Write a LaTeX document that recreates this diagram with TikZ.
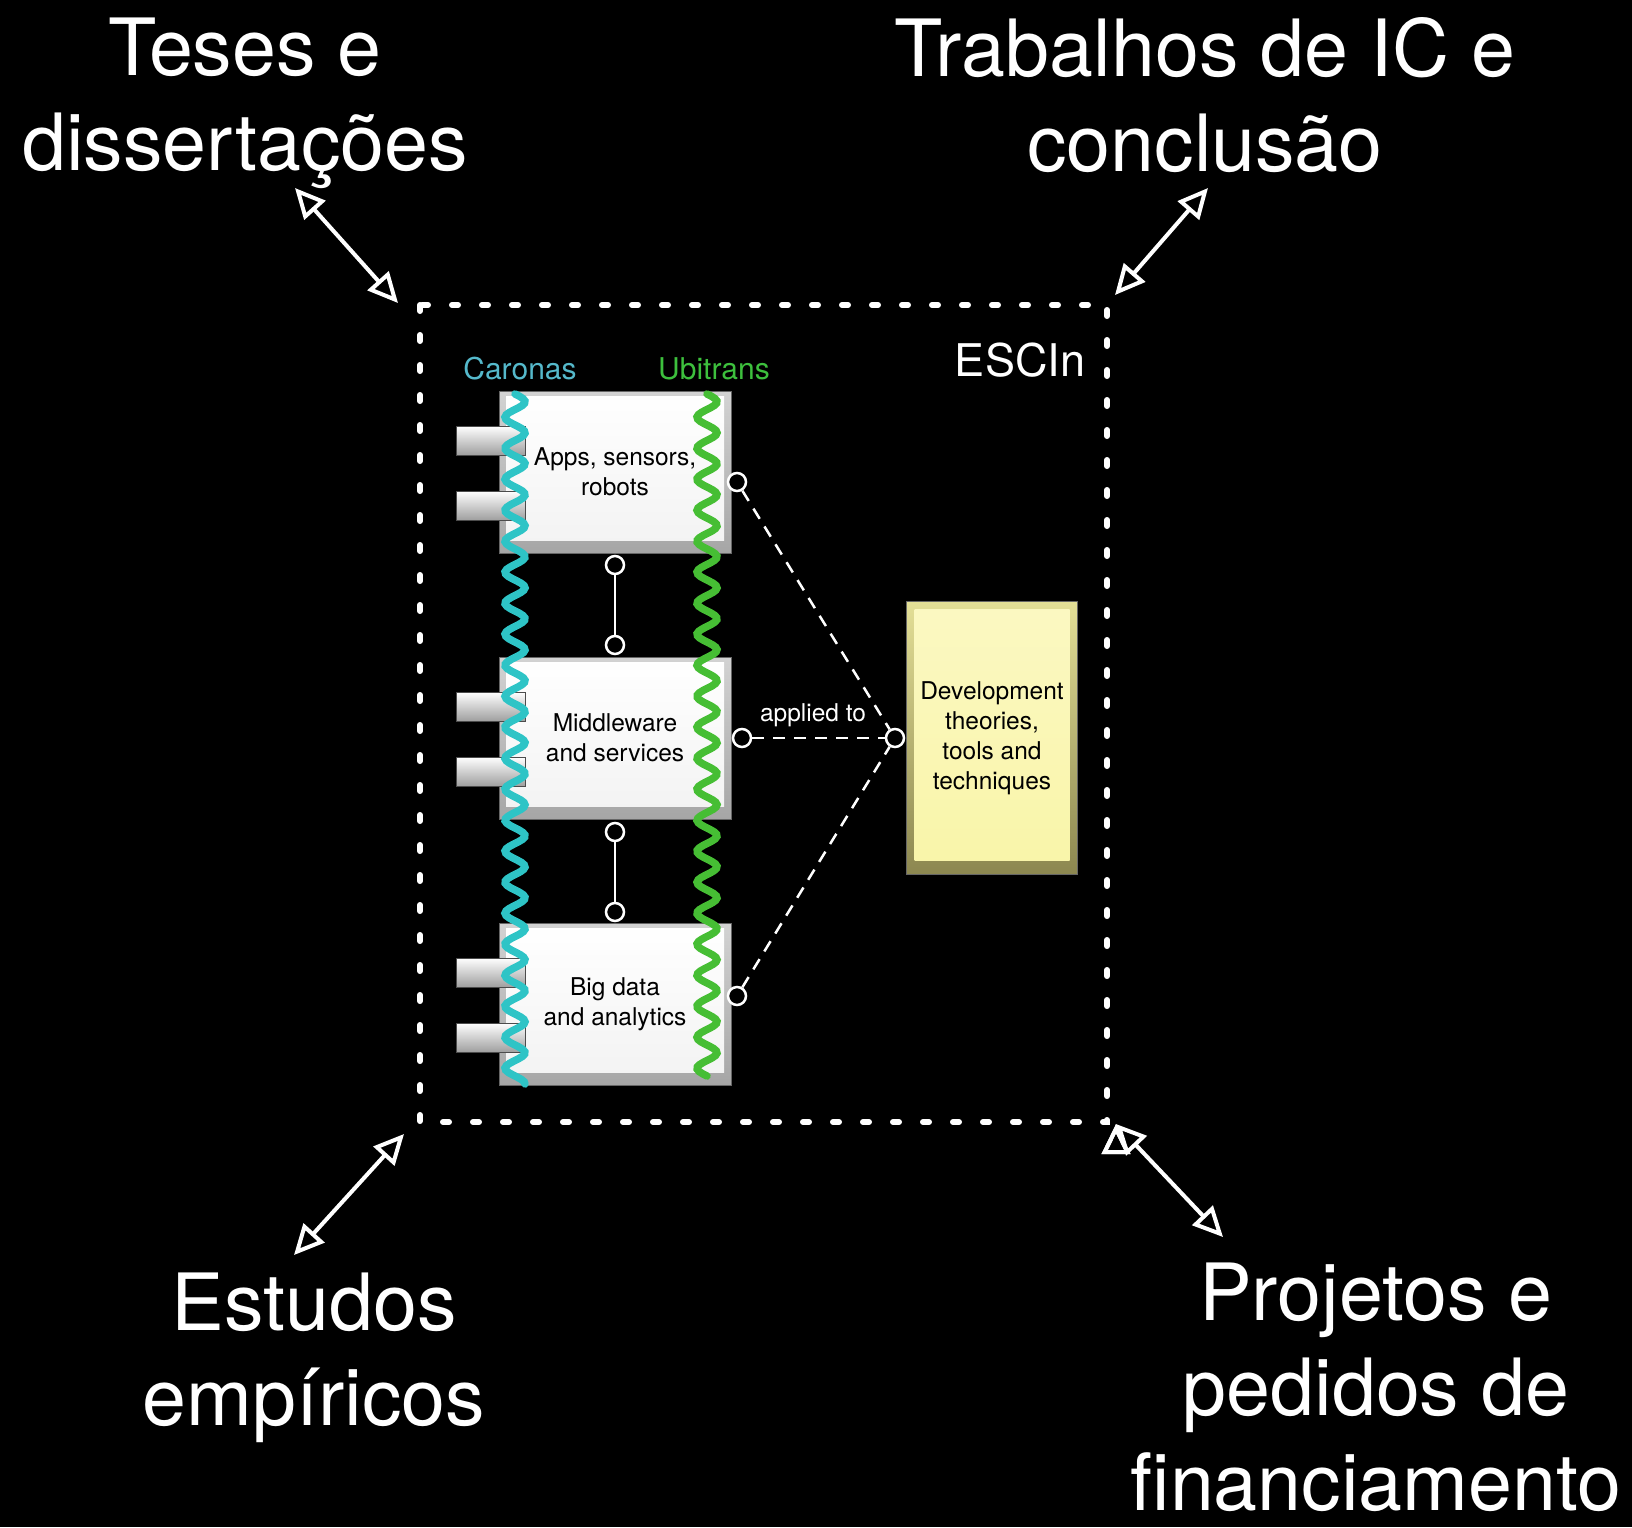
\documentclass[tikz,border=0pt]{standalone}
\usepackage{fontspec}
\setmainfont{TeX Gyre Heros}
\usetikzlibrary{arrows.meta}
\definecolor{caronas}{HTML}{2EC4C6}
\definecolor{caronastext}{HTML}{55B9CB}
\definecolor{ubitrans}{HTML}{46BE34}
\definecolor{ubitranstext}{HTML}{3DC03D}
\definecolor{devfill}{HTML}{F9F5A8}
\definecolor{devedge}{HTML}{8C8750}
\begin{document}
\begin{tikzpicture}[x=1pt, y=-1pt,
  big text/.style={text=white, align=center, inner sep=0pt, font=\fontsize{79}{95}\selectfont},
  team/.style={inner sep=0pt, font=\fontsize{30}{36}\selectfont},
  layer/.style={rectangle, draw=black!60, minimum width=232pt, minimum height=162pt, inner sep=0pt, align=center, font=\fontsize{24.5}{30}\selectfont, top color=gray!35, bottom color=gray!70,
    path picture={\shade[top color=white, bottom color=gray!10] ([shift={(7pt,-5pt)}]path picture bounding box.north west) rectangle ([shift={(-7pt,13pt)}]path picture bounding box.south east);}},
  devbox/.style={rectangle, draw=black!60, minimum width=171pt, minimum height=273pt, inner sep=0pt, align=center, font=\fontsize{24.5}{30}\selectfont, top color=devfill!80!devedge, bottom color=devedge,
    path picture={\shade[top color=devfill!70!white, bottom color=devfill] ([shift={(8pt,-8pt)}]path picture bounding box.north west) rectangle ([shift={(-8pt,14pt)}]path picture bounding box.south east);}},
  tab/.style={draw=black!70, line width=0.8pt, top color=white, bottom color=gray!75},
  wave/.style={line width=7.5pt, line cap=round},
  port/.style={circle, draw=white, fill=black, line width=2.5pt, minimum size=18pt, inner sep=0pt},
  link/.style={white, line width=2pt},
  applied/.style={white, line width=2.5pt, dash pattern=on 12pt off 9pt},
  frame/.style={white, line width=6pt, line cap=round, dash pattern=on 6pt off 24pt},
  both/.style={white, line width=4pt, {Triangle[open,length=30pt,width=28pt]}-{Triangle[open,length=30pt,width=28pt]}}]
\useasboundingbox[fill=black] (0,0) rectangle (1632,1527);
% ESCIn frame
\draw[frame] (420,305) rectangle (1107,1122);
\node[text=white, inner sep=0pt, font=\fontsize{45}{54}\selectfont] (escin) at (1020,360) {ESCIn};
% layers
\node[layer] (apps) at (615,472) {Apps, sensors,\\robots};
\node[layer] (mid) at (615,738) {Middleware\\and services};
\node[layer] (big) at (615,1004) {Big data\\and analytics};
\node[devbox] (dev) at (992,738) {Development\\theories,\\tools and\\techniques};
\foreach \b in {apps,mid,big} {
  \path[tab] ([shift={(-42pt,46pt)}]\b.west) rectangle ([shift={(27pt,17pt)}]\b.west);
  \path[tab] ([shift={(-42pt,-19pt)}]\b.west) rectangle ([shift={(27pt,-48pt)}]\b.west);
}
% projects
\draw[wave, caronas] plot[domain=0:690, samples=300] ({515+10*sin(\x*11.613)}, {394+\x});
\draw[wave, ubitrans] plot[domain=0:682, samples=300] ({707+10*sin(\x*11.613)}, {394+\x});
\node[team, text=caronastext] (car) at (520,369) {Caronas};
\node[team, text=ubitranstext] (ubi) at (714,369) {Ubitrans};
% ports
\node[port] (a1) at (615,565) {};
\node[port] (m1) at (615,645) {};
\node[port] (m2) at (615,832) {};
\node[port] (b1) at (615,912) {};
\node[port] (ra) at (737,482) {};
\node[port] (rm) at (742,738) {};
\node[port] (rb) at (737,996) {};
\node[port] (rd) at (895,738) {};
\draw[link] (a1) edge (m1) (m2) edge (b1);
\draw[applied] (ra) edge (rd) (rm) edge (rd) (rb) edge (rd);
\node[text=white, inner sep=0pt, font=\fontsize{24.5}{30}\selectfont] (applab) at (813,715) {applied to};
% outer texts
\node[big text] (teses) at (245,103) {Teses e\\dissertações};
\node[big text] (trab) at (1205,95) {Trabalhos de IC e\\conclusão};
\node[big text] (estudos) at (314,1358) {Estudos\\empíricos};
\node[big text] (proj) at (1376,1387) {Projetos e\\pedidos de\\financiamento};
\coordinate (tl1) at (295,188);
\coordinate (tl2) at (398,303);
\coordinate (tr1) at (1208,188);
\coordinate (tr2) at (1115,295);
\coordinate (bl1) at (404,1134);
\coordinate (bl2) at (294,1255);
\coordinate (br1) at (1116,1124);
\coordinate (br2) at (1223,1237);
\draw[both] (tl1) edge (tl2) (tr1) edge (tr2) (bl1) edge (bl2) (br1) edge (br2);
\end{tikzpicture}
\end{document}
